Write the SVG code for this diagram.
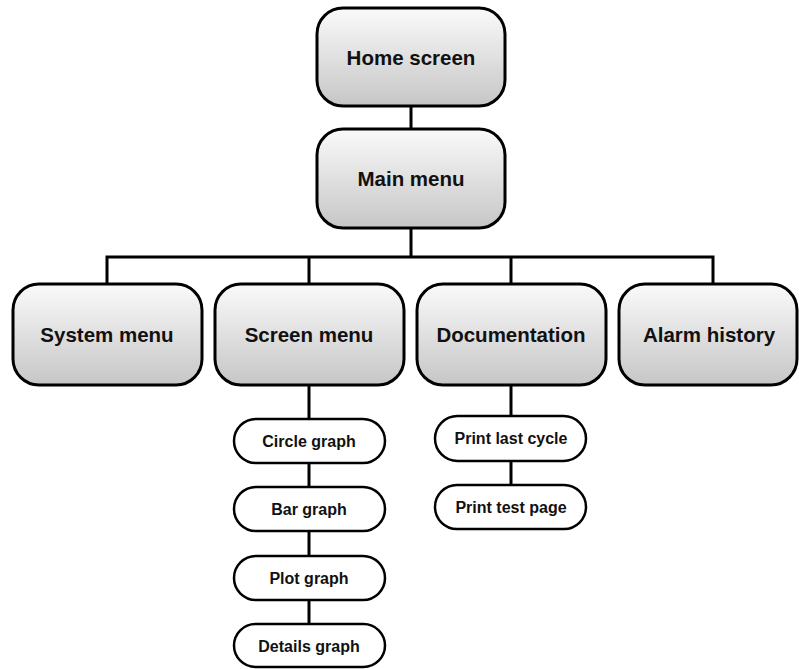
<svg xmlns="http://www.w3.org/2000/svg" width="799" height="669" viewBox="0 0 799 669">
<defs>
<linearGradient id="g" x1="0" y1="0" x2="0" y2="1">
<stop offset="0" stop-color="#fafafa"/>
<stop offset="1" stop-color="#c6c6c6"/>
</linearGradient>
<style>
.big{fill:url(#g);stroke:#000;stroke-width:3}
.small{fill:#fff;stroke:#000;stroke-width:2.5}
.bt{font-family:"Liberation Sans",Arial,sans-serif;font-weight:bold;font-size:20.5px;fill:#111;text-anchor:middle;dominant-baseline:central}
.st{font-family:"Liberation Sans",Arial,sans-serif;font-weight:bold;font-size:16px;fill:#111;text-anchor:middle;dominant-baseline:central}
.c{stroke:#000;stroke-width:3;fill:none}
</style>
</defs>
<rect width="799" height="669" fill="#fff"/>
<g id="connectors">
<line class="c" x1="411" y1="106" x2="411" y2="129"/>
<line class="c" x1="411" y1="228" x2="411" y2="257"/>
<polyline class="c" points="107,284 107,257 713,257 713,284"/>
<line class="c" x1="309" y1="257" x2="309" y2="284"/>
<line class="c" x1="511" y1="257" x2="511" y2="284"/>
<line class="c" x1="309" y1="385" x2="309" y2="419"/>
<line class="c" x1="309" y1="463" x2="309" y2="487"/>
<line class="c" x1="309" y1="531" x2="309" y2="556"/>
<line class="c" x1="309" y1="600" x2="309" y2="624"/>
<line class="c" x1="511" y1="385" x2="511" y2="416"/>
<line class="c" x1="511" y1="461" x2="511" y2="485"/>
</g>
<g id="home"><rect class="big" x="317" y="8" width="188" height="98" rx="26"/><text class="bt" x="411" y="57">Home screen</text></g>
<g id="main"><rect class="big" x="317" y="129" width="188" height="99" rx="26"/><text class="bt" x="411" y="178">Main menu</text></g>
<g id="system"><rect class="big" x="13" y="284" width="189" height="101" rx="26"/><text class="bt" x="107" y="334">System menu</text></g>
<g id="screen"><rect class="big" x="215" y="284" width="189" height="101" rx="26"/><text class="bt" x="309" y="334">Screen menu</text></g>
<g id="documentation"><rect class="big" x="417" y="284" width="189" height="101" rx="26"/><text class="bt" x="511" y="334">Documentation</text></g>
<g id="alarm"><rect class="big" x="619" y="284" width="178" height="101" rx="26"/><text class="bt" x="709" y="334">Alarm history</text></g>
<g id="circle"><rect class="small" x="234" y="419" width="151" height="44" rx="22"/><text class="st" x="309" y="441">Circle graph</text></g>
<g id="bar"><rect class="small" x="234" y="487" width="151" height="44" rx="22"/><text class="st" x="309" y="509">Bar graph</text></g>
<g id="plot"><rect class="small" x="234" y="556" width="151" height="44" rx="22"/><text class="st" x="309" y="578">Plot graph</text></g>
<g id="details"><rect class="small" x="234" y="624" width="151" height="43" rx="21.5"/><text class="st" x="309" y="646">Details graph</text></g>
<g id="printlast"><rect class="small" x="435" y="416" width="151" height="45" rx="22.5"/><text class="st" x="511" y="438">Print last cycle</text></g>
<g id="printtest"><rect class="small" x="435" y="485" width="151" height="44" rx="22"/><text class="st" x="511" y="507">Print test page</text></g>
</svg>
